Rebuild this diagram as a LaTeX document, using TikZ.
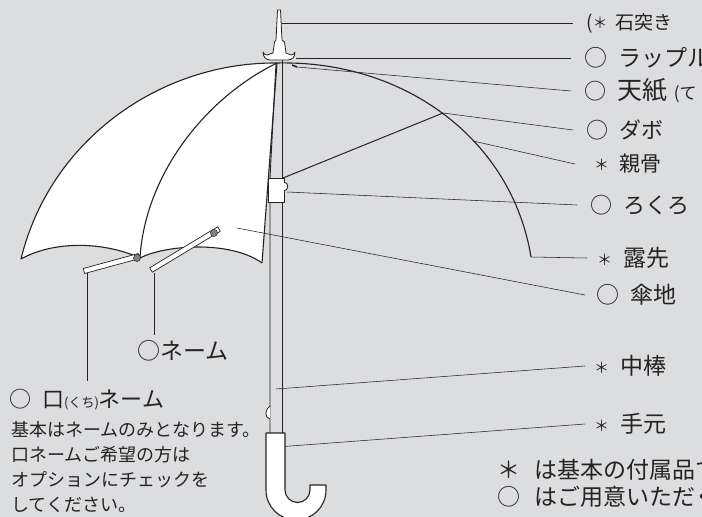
\documentclass[tikz,border=0pt]{standalone}
\usepackage{fontspec}
\setmainfont{Noto Sans CJK JP}
\usepackage{tikz}
\usetikzlibrary{calc}
\usepackage{xcolor}

\definecolor{bgpaper}{RGB}{220,221,223}
\definecolor{ink}{RGB}{38,34,35}
\definecolor{knob}{RGB}{130,130,132}

\newcommand{\lsp}{\hspace{0.5em}}
\newcommand{\stm}{\raisebox{1pt}{\fontsize{15}{15}\selectfont ＊}}
\newcommand{\rodbar}[2]{\draw[rod] ($(#1)!2.6pt!90:(#2)$) -- ($(#2)!2.6pt!-90:(#1)$) -- ($(#2)!2.6pt!90:(#1)$) -- ($(#1)!2.6pt!-90:(#2)$) -- cycle;}

\begin{document}
\begin{tikzpicture}[
    x=1pt, y=-1pt,
    outline/.style={draw=ink, line width=1.1pt, line join=round},
    shaft/.style={draw=ink, line width=0.9pt},
    leader/.style={draw=ink, line width=0.55pt},
    rod/.style={draw=ink, line width=0.7pt, fill=white, line join=round},
    lbl/.style={anchor=west, inner xsep=13pt, inner ysep=0pt, text=ink, font=\fontsize{22}{26}\selectfont},
    note/.style={inner sep=0pt, text=ink, align=left, font=\fontsize{18}{25}\selectfont}
]
\useasboundingbox (0,0) rectangle (702,517);
\clip (0,0) rectangle (702,517);
\fill[bgpaper] (0,0) rectangle (702,517);

% Points on the umbrella
\coordinate (ishitsuki) at (282,23);
\coordinate (rapple) at (296,58);
\coordinate (tenshi) at (297,67);
\coordinate (dabo) at (443,113);
\coordinate (oyabone) at (473,141);
\coordinate (rokuro) at (287,192);
\coordinate (tsuyusaki) at (531,257);
\coordinate (kasaji) at (237,228);
\coordinate (nakabo) at (276,389);
\coordinate (temoto) at (277,447);
\coordinate (kuchi) at (87,273);
\coordinate (name) at (154,273);

% Canopy
\path[fill=white] (21,259) .. controls (50,140) and (160,62) .. (277,63) -- (262,263)
    .. controls (230,240) and (165,245) .. (140,258) .. controls (105,242) and (55,240) .. (21,259) -- cycle;
\draw[outline] (262,263) .. controls (230,240) and (165,245) .. (140,258)
    .. controls (105,242) and (55,240) .. (21,259) .. controls (50,140) and (160,62) .. (277,63)
    .. controls (405,60) and (512,140) .. (tsuyusaki);
\draw[outline] (277,63) .. controls (205,98) and (145,175) .. (140,258);
\draw[outline] (277,63) -- (262,263);

% Leaders
\node[lbl, font=\fontsize{19}{22}\selectfont] (l-ishi) at (573,23) {(\stm\hspace{0.4em}石突き};
\node[lbl, font=\fontsize{23}{26}\selectfont] (l-rap) at (571,58) {○\lsp ラップル};
\node[lbl] (l-ten) at (571,91) {○\lsp{\fontsize{25}{26}\selectfont 天紙}\hspace{0.3em}{\fontsize{17}{18}\selectfont(て}};
\node[lbl] (l-dabo) at (573,130) {○\lsp ダボ};
\node[lbl, inner xsep=19pt, font=\fontsize{21}{26}\selectfont] (l-oya) at (575,164) {\stm\lsp 親骨};
\node[lbl] (l-roku) at (577,205) {○\lsp ろくろ};
\node[lbl, inner xsep=10pt, font=\fontsize{23}{26}\selectfont] (l-tsuyu) at (587,258) {\stm\lsp 露先};
\node[lbl, inner xsep=11pt, font=\fontsize{23}{26}\selectfont] (l-kasa) at (585,295) {○\lsp 傘地};
\node[lbl, inner xsep=9pt, font=\fontsize{23}{26}\selectfont] (l-naka) at (585,366) {\stm\lsp 中棒};
\node[lbl, inner xsep=9pt, font=\fontsize{23}{26}\selectfont] (l-temo) at (585,424) {\stm\lsp 手元};

\draw[leader] (ishitsuki) -- (l-ishi.west);
\draw[leader] (rapple) -- (l-rap.west);
\draw[leader] (tenshi) -- (l-ten.west);
\draw[leader] (dabo) -- (l-dabo.west);
\draw[leader] (oyabone) -- (l-oya.west);
\draw[leader] (rokuro) -- (l-roku.west);
\draw[leader] (tsuyusaki) -- (l-tsuyu.west);
\draw[leader] (kasaji) -- (l-kasa.west);
\draw[leader] (nakabo) -- (l-naka.west);
\draw[leader] (temoto) -- (l-temo.west);
\draw[ink, line width=1.6pt] (292,65) -- (tenshi);

% Shaft, runner and stretcher
\draw[shaft] (276,63) -- (270,178) (270,202) -- (270,433);
\draw[shaft] (282,60) -- (282,433);
\draw[outline, line width=1pt] (283,178) -- (dabo);
\draw[outline, line width=0.9pt, fill=white] (268,178) rectangle (284,202);
\draw[outline, line width=0.8pt, fill=white] (284,182) .. controls (289,183) and (289,190) .. (284,191);
\draw[outline, line width=0.8pt, fill=white] (270,406) .. controls (265,409) and (264,418) .. (270,419);

% Tips with knobs
\coordinate (r1a) at (84,271);
\coordinate (r1b) at (139,256);
\coordinate (r2a) at (151,270);
\coordinate (r2b) at (219,229);
\rodbar{r1a}{r1b}
\rodbar{r2a}{r2b}
\draw[ink, line width=0.4pt, fill=knob] (137,258) circle[radius=3.6pt];
\draw[ink!60, line width=0.3pt] (137,258) circle[radius=1.5pt];
\draw[ink, line width=0.4pt, fill=knob] (214,233) circle[radius=3.6pt];
\draw[ink!60, line width=0.3pt] (214,233) circle[radius=1.5pt];

% Handle
\draw[outline, fill=white] (266,433) -- (285,433) -- (285,490)
    .. controls (285,496.9) and (290.6,502.5) .. (297.5,502.5)
    .. controls (304.4,502.5) and (310,496.9) .. (310,490) -- (310,485) -- (326,485) -- (326,490)
    .. controls (326,506.6) and (312.6,520) .. (296,520)
    .. controls (279.4,520) and (266,506.6) .. (266,490) -- cycle;

% Top cap
\draw[outline, line width=0.8pt, fill=white] (277.5,10) -- (280.5,10) -- (282,40) -- (284.5,42) -- (286,53)
    -- (291,55) .. controls (293,55) and (294,54) .. (295,52)
    .. controls (295,57) and (292,60) .. (288,60) -- (270,60)
    .. controls (266,60) and (263,57) .. (263,52)
    .. controls (264,54) and (265,55) .. (267,55) -- (273,53) -- (274.5,42) -- (276,40) -- cycle;

% Name labels
\node[lbl, anchor=north west, inner sep=0pt, font=\fontsize{23}{26}\selectfont] (l-name) at (137,340) {○ネーム};
\node[lbl, anchor=north west, inner sep=0pt] (l-kuchi) at (9,389) {○\lsp 口{\fontsize{13}{15}\selectfont(くち)}ネーム};
\draw[leader] (name) -- (name |- 0,335);
\draw[leader] (kuchi) -- (kuchi |- 0,381);

% Notes
\node[note, anchor=north west] (memo) at (11,421) {基本はネームのみとなります。\\口ネームご希望の方は\\オプションにチェックを\\してください。};
\node[lbl, inner sep=0pt, font=\fontsize{23}{26}\selectfont] (key1) at (497,470) {＊\hspace{0.6em}は基本の付属品で};
\node[lbl, inner sep=0pt, font=\fontsize{23}{26}\selectfont] (key2) at (497,497) {○\hspace{0.6em}はご用意いただく};
\end{tikzpicture}
\end{document}
